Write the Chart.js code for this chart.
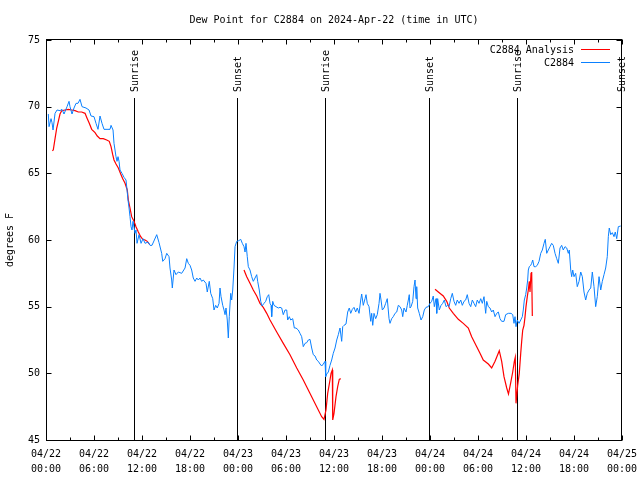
<!DOCTYPE html>
<html>
<head>
<meta charset="utf-8">
<script src="https://cdn.jsdelivr.net/npm/chart.js@4/dist/chart.umd.min.js"></script>
<style>
  html, body { margin: 0; padding: 0; background: #fff; }
  #wrap { width: 640px; height: 480px; }
</style>
</head>
<body>
<div id="wrap"><canvas id="dew" width="640" height="480"></canvas></div>
<script>
// hours since 2024-04-22 00:00 UTC, dew point in F
const obsDew = [
  [0.29,69.45],[0.38,68.5],[0.63,69.1],[0.75,68.8],[0.88,68.25],[1.13,69.5],[1.38,69.75],[1.75,69.7],
  [2.0,69.8],[2.25,69.45],[2.63,70.0],[2.88,70.4],[3.0,70.0],[3.25,69.45],[3.5,69.9],[3.75,70.25],
  [4.0,70.25],[4.25,70.55],[4.5,70.0],[4.75,69.95],[5.0,69.9],[5.38,69.75],[5.63,69.3],[6.0,69.25],
  [6.25,68.75],[6.5,68.3],[6.75,69.3],[7.0,68.75],[7.25,68.3],[7.63,68.3],[8.0,68.3],[8.13,68.6],
  [8.38,68.25],[8.5,67.25],[8.75,66.25],[8.88,65.9],[9.0,66.25],[9.13,65.9],[9.25,65.25],[9.5,65.0],
  [9.75,64.7],[10.0,64.5],[10.13,63.75],[10.25,63.0],[10.38,62.4],[10.5,61.75],[10.63,61.0],[10.75,60.75],
  [10.88,61.4],[11.13,60.5],[11.25,60.75],[11.38,59.75],[11.63,60.4],[11.88,59.75],[12.13,60.1],[12.38,59.75],
  [12.75,59.85],[13.0,59.6],[13.25,59.6],[13.84,60.4],[14.13,59.8],[14.46,59.0],[14.59,58.4],[14.88,58.6],
  [15.09,59.0],[15.38,58.75],[15.5,57.9],[15.71,57.0],[15.79,56.4],[16.0,57.75],[16.25,57.4],[16.54,57.6],
  [16.96,57.5],[17.38,57.9],[17.59,58.6],[17.79,58.25],[18.0,58.1],[18.21,57.75],[18.41,57.15],[18.63,56.9],
  [18.84,57.15],[19.04,57.0],[19.25,57.15],[19.46,56.9],[19.66,57.0],[20.0,56.75],[20.16,56.1],[20.41,56.9],
  [20.59,56.0],[20.84,55.6],[21.0,54.75],[21.21,55.1],[21.41,54.9],[21.63,55.25],[21.75,56.4],[21.88,55.75],
  [22.09,55.1],[22.25,54.75],[22.38,54.4],[22.5,54.9],[22.66,54.0],[22.79,52.65],[22.91,54.25],[23.09,56.0],
  [23.21,55.5],[23.34,56.25],[23.5,57.9],[23.63,59.5],[23.84,59.9],[24.09,59.95],[24.34,60.05],[24.54,59.75],
  [24.75,59.5],[24.88,59.1],[25.0,59.75],[25.16,58.75],[25.29,58.0],[25.5,57.75],[25.71,57.25],[25.91,56.9],
  [26.13,57.15],[26.34,57.4],[26.46,56.9],[26.66,56.25],[26.84,55.4],[27.0,55.05],[27.25,55.25],[27.46,55.4],
  [27.66,55.75],[27.84,55.9],[28.0,55.25],[28.13,55.1],[28.21,54.25],[28.34,55.4],[28.5,55.1],[28.75,55.0],
  [29.04,54.9],[29.25,54.95],[29.46,54.9],[29.66,54.4],[29.88,54.75],[30.09,54.75],[30.21,54.0],[30.41,54.25],
  [30.59,54.0],[30.84,54.1],[31.04,53.4],[31.25,53.4],[31.54,53.25],[31.75,53.0],[31.96,52.75],[32.16,52.0],
  [32.38,52.25],[32.59,52.3],[32.79,52.5],[33.0,52.55],[33.21,51.9],[33.41,51.4],[33.63,51.3],[33.84,51.0],
  [34.04,50.9],[34.25,50.7],[34.46,50.55],[34.66,50.7],[34.88,50.9],[34.96,49.75],[35.09,49.95],[35.29,50.1],
  [35.5,50.6],[35.71,51.0],[35.91,51.5],[36.13,51.9],[36.34,52.5],[36.54,52.9],[36.75,53.4],[36.96,52.4],
  [37.09,53.5],[37.25,53.6],[37.5,53.7],[37.71,54.6],[37.91,54.9],[38.09,54.5],[38.29,54.8],[38.5,54.95],
  [38.71,54.6],[38.91,54.9],[39.13,54.5],[39.34,55.5],[39.46,55.95],[39.66,55.1],[39.88,55.6],[40.0,55.9],
  [40.16,55.25],[40.38,55.0],[40.59,53.9],[40.71,54.5],[40.84,53.6],[41.0,54.5],[41.21,54.1],[41.41,54.4],
  [41.63,55.25],[41.75,56.0],[41.88,55.5],[42.04,54.75],[42.25,54.9],[42.46,55.25],[42.66,55.6],[42.88,54.1],
  [43.0,53.75],[43.21,54.1],[43.41,54.25],[43.63,54.5],[43.84,54.6],[44.04,55.1],[44.25,55.0],[44.46,54.75],
  [44.59,54.25],[44.75,54.9],[45.0,54.6],[45.16,55.1],[45.29,55.5],[45.41,55.9],[45.5,54.9],[45.63,55.0],
  [45.84,55.4],[46.0,56.5],[46.13,57.0],[46.25,55.6],[46.34,56.5],[46.46,54.9],[46.66,54.5],[46.88,54.0],
  [47.09,54.25],[47.29,54.75],[47.5,54.95],[47.79,55.0],[48.0,55.25],[48.21,55.4],[48.41,55.8],[48.54,55.0],
  [48.75,55.6],[48.84,54.5],[48.96,55.6],[49.16,54.75],[49.38,55.1],[49.59,55.25],[49.79,55.5],[50.0,55.0],
  [50.21,55.1],[50.38,55.0],[50.59,55.6],[50.79,56.0],[51.0,55.4],[51.21,55.1],[51.41,55.5],[51.63,55.25],
  [51.84,55.5],[52.04,55.1],[52.25,55.4],[52.46,55.5],[52.66,55.9],[52.88,55.25],[53.09,55.0],[53.29,55.5],
  [53.5,55.25],[53.71,55.0],[53.91,55.5],[54.13,55.25],[54.34,55.6],[54.54,55.25],[54.75,55.75],[54.96,54.5],
  [55.09,55.4],[55.29,55.0],[55.5,54.9],[55.71,54.6],[55.91,54.75],[56.13,54.25],[56.34,54.5],[56.54,54.6],
  [56.75,54.1],[56.96,53.9],[57.25,53.9],[57.46,54.4],[57.79,54.5],[58.13,54.5],[58.34,54.4],[58.5,53.75],
  [58.63,54.25],[58.75,53.5],[58.91,54.0],[59.13,53.75],[59.34,54.0],[59.54,54.25],[59.66,54.75],[59.79,55.5],
  [59.96,55.9],[60.09,56.4],[60.21,57.0],[60.29,57.75],[60.41,58.0],[60.59,58.1],[60.71,58.25],[60.84,58.5],
  [61.0,58.0],[61.21,58.0],[61.41,58.1],[61.63,58.4],[61.84,59.0],[62.04,59.25],[62.25,59.75],[62.41,60.05],
  [62.59,59.0],[62.79,59.25],[63.0,59.5],[63.21,59.75],[63.41,59.6],[63.63,59.0],[63.84,58.6],[64.04,58.25],
  [64.25,59.4],[64.46,59.6],[64.66,59.25],[64.88,59.5],[65.09,59.4],[65.29,59.0],[65.41,59.25],[65.59,57.75],
  [65.71,57.25],[65.84,57.75],[66.0,57.25],[66.21,57.5],[66.41,56.5],[66.63,56.9],[66.84,57.6],[67.04,57.25],
  [67.25,56.1],[67.46,55.5],[67.66,56.0],[67.88,56.25],[68.09,56.4],[68.29,57.6],[68.5,56.5],[68.71,55.0],
  [68.91,55.75],[69.13,57.25],[69.34,56.25],[69.54,56.9],[69.75,57.4],[69.96,57.9],[70.16,58.75],[70.29,60.25],
  [70.41,60.9],[70.59,60.4],[70.79,60.55],[71.0,60.25],[71.16,60.6],[71.34,60.1],[71.54,61.0],[71.84,61.05]
];

// analysis series, null = no analysis
const anaDew = [
  [0.79,66.7],[0.91,66.75],[1.13,67.6],[1.34,68.4],[1.54,68.9],[1.75,69.45],[1.96,69.7],[2.38,69.75],
  [2.79,69.8],[3.21,69.75],[3.63,69.7],[4.04,69.6],[4.46,69.6],[4.88,69.5],[5.16,69.1],[5.41,68.75],
  [5.71,68.3],[6.13,68.05],[6.41,67.8],[6.75,67.6],[7.16,67.6],[7.59,67.5],[7.91,67.4],[8.13,67.0],
  [8.34,66.4],[8.5,66.0],[8.75,65.7],[9.04,65.4],[9.34,64.95],[9.59,64.6],[9.88,64.25],[10.16,63.75],
  [10.29,63.0],[10.5,62.4],[10.71,61.75],[11.0,61.4],[11.25,61.0],[11.54,60.6],[11.84,60.25],[12.09,60.05],
  [12.38,60.0],[12.66,59.9],[12.91,59.7],
  [13.5,null],
  [24.75,57.75],[25.09,57.25],[25.5,56.75],[25.91,56.25],[26.34,55.8],[26.75,55.25],[27.16,54.95],[27.59,54.5],
  [28.0,54.0],[28.84,53.1],[29.66,52.25],[30.5,51.4],[31.34,50.4],[32.16,49.5],[32.66,48.9],[34.46,46.75],
  [34.75,46.55],[35.0,47.25],[35.21,48.5],[35.5,49.5],[35.63,50.0],[35.79,50.25],[35.84,46.5],[36.0,47.0],
  [36.25,48.25],[36.46,49.0],[36.66,49.55],[36.84,49.6],
  [40.0,null],
  [48.63,56.3],[49.04,56.1],[49.66,55.8],[50.09,55.4],[50.41,54.9],[50.91,54.5],[51.54,54.05],[52.16,53.75],
  [52.79,53.4],[53.21,52.75],[53.84,52.0],[54.25,51.5],[54.66,51.0],[55.29,50.7],[55.71,50.4],[56.13,50.9],
  [56.66,51.7],[56.96,50.9],[57.25,49.75],[57.59,48.9],[57.81,48.45],[58.09,49.3],[58.34,50.1],[58.54,50.9],
  [58.66,51.2],[58.75,47.75],[58.96,49.1],[59.16,50.0],[59.34,51.5],[59.46,52.4],[59.59,53.25],[59.75,53.6],
  [59.88,54.25],[60.0,55.0],[60.16,55.75],[60.29,56.25],[60.41,56.9],[60.5,56.1],[60.63,57.5],[60.71,57.6],
  [60.79,54.3]
];

const sunriseHours = [10.95, 34.93, 58.92];
const sunsetHours = [23.92, 47.92, 71.9];

const xDates = ['04/22','04/22','04/22','04/22','04/23','04/23','04/23','04/23','04/24','04/24','04/24','04/24','04/25'];
const xTimes = ['00:00','06:00','12:00','18:00','00:00','06:00','12:00','18:00','00:00','06:00','12:00','18:00','00:00'];

const FONT = 'DejaVu Sans Mono';
const RED = '#ff0000';
const BLUE = '#0a80ff';

// gnuplot-like frame: inward ticks on all four sides, sun markers, legend
const frame = {
    id: 'frame',
    beforeDatasetsDraw(chart) {
        const { ctx, chartArea: a, scales: { x } } = chart;
        ctx.save();
        ctx.strokeStyle = '#000';
        ctx.lineWidth = 1;
        ctx.fillStyle = '#000';
        ctx.font = '10px "' + FONT + '"';
        const marks = sunriseHours.map(h => [h, 'Sunrise']).concat(sunsetHours.map(h => [h, 'Sunset']));
        marks.forEach(([h, txt]) => {
            const px = Math.round(x.getPixelForValue(h)) + 0.5;
            ctx.beginPath();
            ctx.moveTo(px, a.top + 58);
            ctx.lineTo(px, a.bottom);
            ctx.stroke();
            ctx.save();
            ctx.translate(px + 1, a.top + 52);
            ctx.rotate(-Math.PI / 2);
            ctx.textAlign = 'left';
            ctx.textBaseline = 'middle';
            ctx.fillText(txt, 0, 0);
            ctx.restore();
        });
        ctx.restore();
    },
    afterDatasetsDraw(chart) {
        const { ctx, chartArea: a, scales: { x, y } } = chart;
        ctx.save();
        ctx.strokeStyle = '#000';
        ctx.lineWidth = 1;
        const L = a.left + 0.5, R = a.right - 0.5, T = a.top - 0.5, B = a.bottom + 0.5;
        ctx.strokeRect(L, T, R - L, B - T);
        ctx.beginPath();
        for (let h = 0; h <= 72; h += 3) {
            const px = Math.round(x.getPixelForValue(h)) + 0.5;
            const len = h % 6 === 0 ? 5 : 3;
            ctx.moveTo(px, B); ctx.lineTo(px, B - len);
            ctx.moveTo(px, T); ctx.lineTo(px, T + len);
        }
        for (let v = 45; v <= 75; v += 5) {
            const py = Math.round(y.getPixelForValue(v)) + 0.5;
            ctx.moveTo(L, py); ctx.lineTo(L + 5, py);
            ctx.moveTo(R, py); ctx.lineTo(R - 5, py);
        }
        ctx.stroke();

        // legend
        ctx.font = '10px "' + FONT + '"';
        ctx.fillStyle = '#000';
        ctx.textAlign = 'right';
        ctx.textBaseline = 'middle';
        const rows = [['C2884 Analysis', RED], ['C2884', BLUE]];
        rows.forEach(([label, col], i) => {
            const ry = a.top + 10 + i * 13;
            ctx.fillText(label, a.right - 48, ry);
            ctx.strokeStyle = col;
            ctx.beginPath();
            ctx.moveTo(a.right - 41, ry - 0.5);
            ctx.lineTo(a.right - 12, ry - 0.5);
            ctx.stroke();
        });
        ctx.restore();
    }
};

new Chart(document.getElementById('dew'), {
    type: 'line',
    data: {
        datasets: [
            {
                label: 'C2884',
                data: obsDew.map(([h, v]) => ({ x: h, y: v })),
                borderColor: BLUE,
                borderWidth: 1,
                pointRadius: 0,
                tension: 0,
                order: 0
            },
            {
                label: 'C2884 Analysis',
                data: anaDew.map(([h, v]) => ({ x: h, y: v })),
                borderColor: RED,
                borderWidth: 1.2,
                pointRadius: 0,
                tension: 0,
                spanGaps: false,
                order: 1
            }
        ]
    },
    options: {
        responsive: false,
        animation: false,
        layout: { padding: { left: 0, right: 18, top: 0, bottom: 0 } },
        plugins: {
            legend: { display: false },
            tooltip: { enabled: false },
            title: {
                display: true,
                fullSize: false,
                text: 'Dew Point for C2884 on 2024-Apr-22 (time in UTC)',
                color: '#000',
                font: { family: FONT, size: 10, weight: 'normal', lineHeight: 1.2 },
                padding: { top: 14, bottom: 14 }
            }
        },
        scales: {
            x: {
                type: 'linear',
                min: 0,
                max: 72,
                grid: { display: false, drawTicks: false },
                border: { display: false },
                ticks: {
                    stepSize: 6,
                    autoSkip: false,
                    maxRotation: 0,
                    padding: 7,
                    color: '#000',
                    font: { family: FONT, size: 10, lineHeight: 1.5 },
                    callback: (v, i) => [xDates[i], xTimes[i]]
                },
                afterFit: s => { s.height = 40; s.paddingLeft = 0; s.paddingRight = 0; }
            },
            y: {
                min: 45,
                max: 75,
                grid: { display: false, drawTicks: false },
                border: { display: false },
                ticks: {
                    stepSize: 5,
                    padding: 6,
                    color: '#000',
                    font: { family: FONT, size: 10 }
                },
                title: {
                    display: true,
                    text: 'degrees F',
                    color: '#000',
                    font: { family: FONT, size: 10, lineHeight: 1.2 },
                    padding: { top: 4, bottom: 0 }
                },
                afterFit: s => { s.width = 46; s.paddingTop = 0; s.paddingBottom = 0; }
            }
        }
    },
    plugins: [frame]
});
</script>
</body>
</html>
